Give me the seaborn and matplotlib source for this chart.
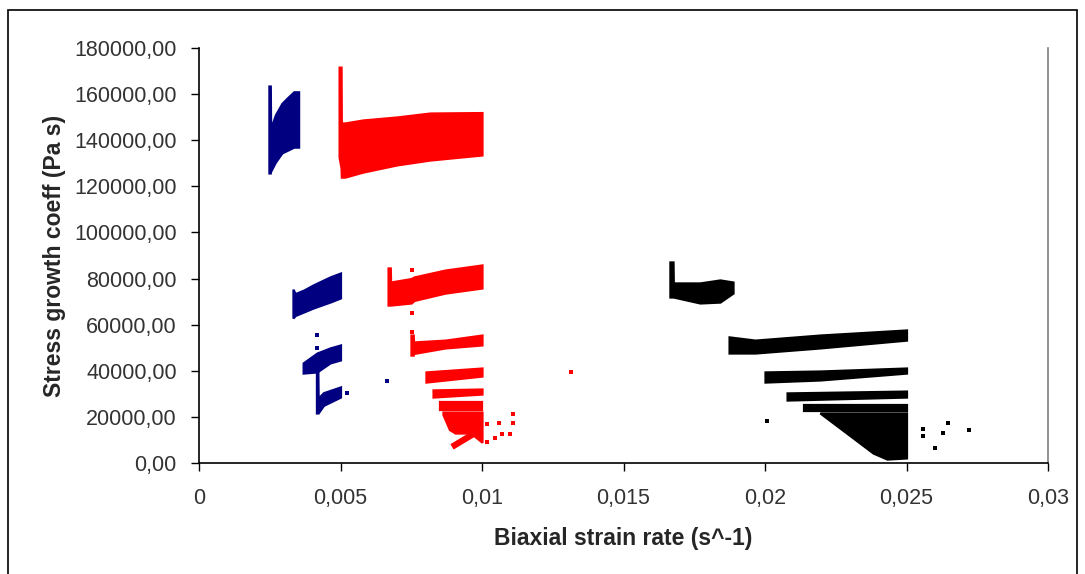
import matplotlib
matplotlib.use("Agg")
import matplotlib.pyplot as plt
from matplotlib.patches import Rectangle
from matplotlib.ticker import FuncFormatter
import pandas as pd
import seaborn as sns

# ---- measured bands (strain rate, lower / upper stress growth coefficient) ----
# blue series
blue1_x = [0.00247, 0.00252, 0.00253, 0.00270, 0.00293, 0.00315, 0.00335, 0.00352]
blue1_lo = [125800, 125800, 126500, 130500, 134500, 135800, 137000, 137000]
blue1_hi = [163500, 163500, 145000, 151000, 156000, 158700, 161000, 161000]

blue2_x = [0.00332, 0.00340, 0.00370, 0.00403, 0.00463, 0.00500]
blue2_lo = [62900, 64000, 65500, 67200, 69800, 71600]
blue2_hi = [75400, 73500, 75000, 77200, 80700, 82400]

blue3_x = [0.00368, 0.00417, 0.00463, 0.00500]
blue3_lo = [39000, 39500, 43400, 44700]
blue3_hi = [43400, 47700, 49900, 51200]

blue4_x = [0.00415, 0.00420, 0.00421, 0.00440, 0.00500]
blue4_lo = [21700, 21700, 21700, 25000, 28600]
blue4_hi = [40000, 40000, 28200, 30500, 33000]

blue_dot_x = [0.00417, 0.00417, 0.00523, 0.00664]
blue_dot_y = [55500, 49900, 30400, 35600]

# red series
red1_x = [0.00495, 0.00502, 0.00503, 0.00516, 0.00580, 0.00700, 0.00816, 0.01000]
red1_lo = [132700, 128000, 124000, 124000, 126200, 129300, 131400, 133600]
red1_hi = [171700, 171700, 147500, 147500, 148800, 150100, 151800, 152000]

red2_x = [0.00668, 0.00676, 0.00677, 0.00750, 0.00760, 0.00870, 0.01000]
red2_lo = [68500, 68500, 68500, 69400, 70500, 73700, 75900]
red2_hi = [84600, 84600, 78500, 80000, 80700, 83700, 85900]

red3_x = [0.00749, 0.00757, 0.00758, 0.00870, 0.01000]
red3_lo = [46800, 46800, 47500, 49900, 51200]
red3_hi = [55500, 55500, 52500, 53300, 55500]

red4_x = [0.00802, 0.01000]
red4_lo = [35100, 37700]
red4_hi = [39500, 41200]

red5_x = [0.00827, 0.01000]
red5_lo = [28600, 29900]
red5_hi = [31700, 32100]

red6_x = [0.00852, 0.01000]
red6_lo = [23000, 23000]
red6_hi = [26500, 26500]

red7_x = [0.00862, 0.00885, 0.00905, 0.00960, 0.01000]
red7_lo = [21000, 14500, 13000, 13000, 9000]
red7_hi = [22100, 22100, 22100, 22100, 22100]

red_tail_x = [0.00894, 0.00993]
red_tail_y = [7000, 14300]

red_dot_x = [0.00753, 0.00753, 0.00753, 0.01018, 0.01060, 0.01110, 0.01110,
             0.01018, 0.01046, 0.01071, 0.01099, 0.01315]
red_dot_y = [83800, 65000, 56800, 16900, 17300, 21300, 17300,
             9100, 10800, 12600, 12600, 39500]

# black series
black1_x = [0.01664, 0.01675, 0.01676, 0.01770, 0.01841, 0.01887]
black1_lo = [72000, 72000, 72000, 69400, 69800, 73700]
black1_hi = [87200, 87200, 78100, 78100, 79400, 78500]

black2_x = [0.01873, 0.01965, 0.02194, 0.02500]
black2_lo = [47700, 47700, 49900, 53300]
black2_hi = [54700, 53300, 55500, 57700]

black3_x = [0.02000, 0.02194, 0.02500]
black3_lo = [35100, 36000, 39000]
black3_hi = [39500, 39900, 41200]

black4_x = [0.02078, 0.02500]
black4_lo = [27300, 28600]
black4_hi = [30400, 31200]

black5_x = [0.02138, 0.02500]
black5_lo = [22600, 22600]
black5_hi = [25200, 25200]

black6_x = [0.02194, 0.02300, 0.02382, 0.02431, 0.02500]
black6_lo = [21700, 11900, 4300, 1700, 2200]
black6_hi = [21700, 21700, 21700, 21700, 21700]

black_dot_x = [0.02007, 0.02558, 0.02558, 0.02629, 0.02647, 0.02721, 0.02601]
black_dot_y = [18200, 14700, 11700, 13000, 17300, 14300, 6500]

# axis ticks
x_ticks = [0, 0.005, 0.01, 0.015, 0.02, 0.025, 0.03]
y_ticks = [0, 20000, 40000, 60000, 80000, 100000, 120000, 140000, 160000, 180000]

NAVY = "#000080"
RED = "#ff0000"
BLACK = "#000000"

sns.set_theme(style="white")
plt.rcParams["font.family"] = ["Liberation Sans", "DejaVu Sans"]

fig = plt.figure(figsize=(10.85, 5.74), dpi=100)
ax = fig.add_axes([199 / 1085, 1 - 463 / 574, 849 / 1085, 415 / 574])

bands = [
    (blue1_x, blue1_lo, blue1_hi, NAVY),
    (blue2_x, blue2_lo, blue2_hi, NAVY),
    (blue3_x, blue3_lo, blue3_hi, NAVY),
    (blue4_x, blue4_lo, blue4_hi, NAVY),
    (red1_x, red1_lo, red1_hi, RED),
    (red2_x, red2_lo, red2_hi, RED),
    (red3_x, red3_lo, red3_hi, RED),
    (red4_x, red4_lo, red4_hi, RED),
    (red5_x, red5_lo, red5_hi, RED),
    (red6_x, red6_lo, red6_hi, RED),
    (red7_x, red7_lo, red7_hi, RED),
    (black1_x, black1_lo, black1_hi, BLACK),
    (black2_x, black2_lo, black2_hi, BLACK),
    (black3_x, black3_lo, black3_hi, BLACK),
    (black4_x, black4_lo, black4_hi, BLACK),
    (black5_x, black5_lo, black5_hi, BLACK),
    (black6_x, black6_lo, black6_hi, BLACK),
]
for bx, blo, bhi, col in bands:
    ax.fill_between(bx, blo, bhi, color=col, linewidth=1.6, edgecolor=col,
                    joinstyle="miter", zorder=3)

sns.lineplot(x=red_tail_x, y=red_tail_y, color=RED, linewidth=4.5,
             solid_capstyle="butt", ax=ax, zorder=3)

dots = pd.DataFrame({
    "rate": blue_dot_x + red_dot_x + black_dot_x,
    "coeff": blue_dot_y + red_dot_y + black_dot_y,
    "series": ["blue"] * len(blue_dot_x) + ["red"] * len(red_dot_x) + ["black"] * len(black_dot_x),
})
sns.scatterplot(data=dots, x="rate", y="coeff", hue="series",
                palette={"blue": NAVY, "red": RED, "black": BLACK},
                marker="s", s=9, linewidth=0, legend=False, ax=ax, zorder=4)

ax.set_xlim(0, 0.03)
ax.set_ylim(0, 180000)
ax.set_xticks(x_ticks)
ax.set_yticks(y_ticks)
ax.xaxis.set_major_formatter(FuncFormatter(lambda v, p: "0" if v == 0 else f"{v:g}".replace(".", ",")))
ax.yaxis.set_major_formatter(FuncFormatter(lambda v, p: f"{v:.2f}".replace(".", ",")))

ax.tick_params(axis="both", which="major", direction="out", length=6, width=1,
               color="black", labelsize=15.5, labelcolor="#333333")
ax.tick_params(axis="y", pad=10)
ax.tick_params(axis="x", pad=12)
ax.tick_params(left=True, bottom=True)

for side in ["left", "bottom"]:
    ax.spines[side].set_color("black")
    ax.spines[side].set_linewidth(1.2)
ax.spines["right"].set_color("#808080")
ax.spines["right"].set_linewidth(1.2)
ax.spines["top"].set_visible(False)

ax.set_xlabel("Biaxial strain rate (s^-1)", fontsize=16.5, fontweight="bold", labelpad=13)
ax.set_ylabel("Stress growth coeff (Pa s)", fontsize=16.5, fontweight="bold", labelpad=6)
ax.grid(False)
ax.set_facecolor("white")

# chart-area frame
fig.patches.append(Rectangle((8 / 1085, -0.02), (1077 - 8) / 1085, 1 - 10 / 574 + 0.02,
                             transform=fig.transFigure, fill=False,
                             edgecolor="black", linewidth=1.2, zorder=0))

fig.savefig("out.png", dpi=100, facecolor="white")
